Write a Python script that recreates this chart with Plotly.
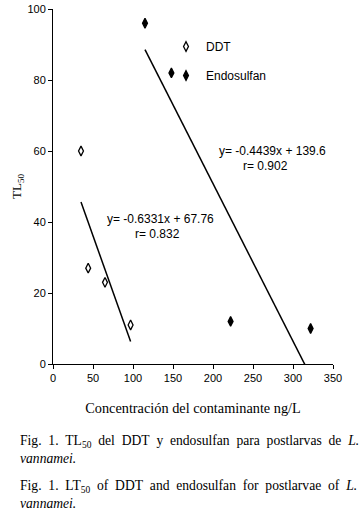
import plotly.graph_objects as go

# Data
ddt_x = [35, 44, 65, 97]
ddt_y = [60, 27, 23, 11]
endo_x = [115, 148, 222, 322]
endo_y = [96, 82, 12, 10]

# Regression equations printed on the chart
ddt_slope, ddt_intercept = -0.6331, 67.76
endo_slope, endo_intercept = -0.4439, 139.6

x_ticks = [0, 50, 100, 150, 200, 250, 300, 350]
y_ticks = [0, 20, 40, 60, 80, 100]

SANS = "Liberation Sans, Arial, sans-serif"
SERIF = "Liberation Serif, Times New Roman, serif"

W, H = 363, 521
ML, MR, MT, MB = 53, 30, 9, 157
PW, PH = W - ML - MR, H - MT - MB


def px_to_paper(xp, yp):
    return (xp - ML) / PW, (H - MB - yp) / PH


fig = go.Figure()

fig.add_trace(go.Scatter(
    x=ddt_x, y=ddt_y, mode="markers", name="DDT",
    legendgroup="a",
    marker=dict(symbol="diamond-tall", size=7, color="white",
                line=dict(color="black", width=1.3)),
))
fig.add_trace(go.Scatter(
    x=endo_x, y=endo_y, mode="markers", name="Endosulfan",
    legendgroup="b",
    marker=dict(symbol="diamond-tall", size=7, color="black",
                line=dict(color="black", width=1.3)),
))

# Trend lines across each series' x-range
ddt_lx = [min(ddt_x), max(ddt_x)]
endo_lx = [min(endo_x), max(endo_x)]
fig.add_trace(go.Scatter(
    x=ddt_lx, y=[ddt_slope * v + ddt_intercept for v in ddt_lx],
    mode="lines", line=dict(color="black", width=1.5), showlegend=False,
    hoverinfo="skip",
))
fig.add_trace(go.Scatter(
    x=endo_lx, y=[endo_slope * v + endo_intercept for v in endo_lx],
    mode="lines", line=dict(color="black", width=1.5), showlegend=False,
    hoverinfo="skip",
))

annos = [
    dict(x=274, y=60, xref="x", yref="y", text="y= -0.4439x + 139.6"),
    dict(x=265, y=55.9, xref="x", yref="y", text="r= 0.902"),
    dict(x=134, y=40.8, xref="x", yref="y", text="y= -0.6331x + 67.76"),
    dict(x=131, y=36.7, xref="x", yref="y", text="r= 0.832"),
]
for a in annos:
    a.update(showarrow=False, font=dict(family=SANS, size=12, color="black"),
             xanchor="center", yanchor="middle")

SP = "\u2002"  # wider gap to mimic the justified caption text
captions = [
    (441, SP.join(["Fig.", "1.", "TL<sub>50</sub>", "del", "DDT", "y", "endosulfan",
                   "para", "postlarvas", "de", "<i>L.</i>"])),
    (458, "<i>vannamei.</i>"),
    (486, SP.join(["Fig.", "1.", "LT<sub>50</sub>", "of", "DDT", "and", "endosulfan",
                   "for", "postlarvae", "of", "<i>L.</i>"])),
    (503, "<i>vannamei.</i>"),
]
for ypix, txt in captions:
    px, py = px_to_paper(18, ypix)
    annos.append(dict(
        x=px, y=py, xref="paper", yref="paper",
        text=txt, showarrow=False, xanchor="left", yanchor="middle",
        font=dict(family=SERIF, size=13.6, color="black"),
    ))

lx, ly = px_to_paper(166, 32)

fig.update_layout(
    width=W, height=H,
    margin=dict(l=ML, r=MR, t=MT, b=MB, autoexpand=False),
    paper_bgcolor="white", plot_bgcolor="white",
    showlegend=True,
    legend=dict(x=lx, y=ly, xanchor="left", yanchor="top",
                font=dict(family=SANS, size=12, color="black"),
                bgcolor="rgba(0,0,0,0)", tracegroupgap=10,
                traceorder="grouped", itemwidth=30),
    annotations=annos,
    xaxis=dict(
        range=[0, 350], tickvals=x_ticks, ticktext=[str(v) for v in x_ticks],
        showline=True, linecolor="black", linewidth=1,
        ticks="outside", ticklen=4, tickcolor="black",
        showgrid=False, zeroline=False,
        tickfont=dict(family=SANS, size=11, color="black"),
        title=dict(text="Concentración del contaminante ng/L",
                   font=dict(family=SERIF, size=14.3, color="black"), standoff=19),
    ),
    yaxis=dict(
        range=[0, 100], tickvals=y_ticks, ticktext=[str(v) for v in y_ticks],
        showline=True, linecolor="black", linewidth=1,
        ticks="outside", ticklen=4, tickcolor="black",
        showgrid=False, zeroline=False,
        tickfont=dict(family=SANS, size=11, color="black"),
        title=dict(text="TL<sub>50</sub>",
                   font=dict(family=SERIF, size=13, color="black"), standoff=2),
    ),
)

fig.write_html("out.html", config={"displayModeBar": False},
               post_script="document.body.style.margin='0';")
